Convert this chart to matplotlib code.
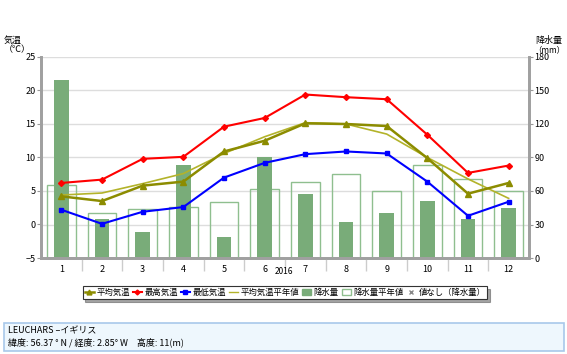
import matplotlib
matplotlib.use("Agg")
import matplotlib.pyplot as plt
from matplotlib.lines import Line2D
from matplotlib.patches import Rectangle, Patch
import numpy as np

plt.rcParams['font.family'] = ['Noto Sans CJK JP', 'DejaVu Sans']

months = [1, 2, 3, 4, 5, 6, 7, 8, 9, 10, 11, 12]
month_labels = ['1', '2', '3', '4', '5', '6', '7', '8', '9', '10', '11', '12']
t_max = [6.2, 6.7, 9.8, 10.1, 14.6, 15.9, 19.4, 19.0, 18.7, 13.4, 7.7, 8.8]
t_avg = [4.2, 3.5, 5.8, 6.4, 10.9, 12.5, 15.1, 15.0, 14.7, 9.9, 4.6, 6.2]
t_min = [2.2, 0.1, 1.9, 2.6, 7.0, 9.2, 10.5, 10.9, 10.6, 6.4, 1.3, 3.4]
t_avg_normal = [4.4, 4.7, 6.1, 7.6, 10.6, 13.1, 15.2, 15.0, 13.5, 10.0, 6.8, 3.9]
precip = [159, 35, 23, 83, 19, 90, 57, 32, 40, 51, 35, 45]
precip_normal = [65, 40, 44, 46, 50, 62, 68, 75, 60, 83, 71, 60]
year_label = '2016'

W, H = 567, 354
fig = plt.figure(figsize=(W / 100, H / 100), dpi=100)

x0, x1, y0, y1 = 41, 529, 57, 258
ax = fig.add_axes([x0 / W, 1 - y1 / H, (x1 - x0) / W, (y1 - y0) / H])
ax2 = ax.twinx()

ax2.set_zorder(1)
ax.set_zorder(2)
ax.patch.set_visible(False)

ax2.bar(months, precip_normal, width=0.7, facecolor='none', edgecolor='#8fbf8f', linewidth=1.0, zorder=1)
ax2.bar(months, precip, width=0.36, color='#79ac79', zorder=2)
ax2.set_ylim(0, 180)
ax2.set_yticks(np.arange(0, 181, 30))

ax.plot(months, t_avg_normal, color='#b3b32a', linewidth=1.2, zorder=3)
ax.plot(months, t_max, color='#ff0000', linewidth=1.5, marker='D', markersize=3, zorder=4)
ax.plot(months, t_avg, color='#8c8c00', linewidth=1.8, marker='^', markersize=4, zorder=4)
ax.plot(months, t_min, color='#0000ff', linewidth=1.5, marker='s', markersize=3.5, zorder=4)

ax.set_xlim(0.5, 12.5)
ax.set_ylim(-5, 25)
ax.set_yticks(np.arange(-5, 26, 5))
for v in np.arange(0, 26, 5):
    ax2.axhline(30 + 6 * v, color='#dddddd', linewidth=1.0, zorder=0)

ax.set_xticks(months)
ax.set_xticklabels(month_labels)
ax.set_xticks(np.arange(1.5, 12, 1), minor=True)
ax.tick_params(axis='x', which='major', length=0, labelsize=6.5, pad=5)
ax.tick_params(axis='x', which='minor', length=9, color='#cccccc', width=1)
ax.tick_params(axis='y', labelsize=6.5, length=3, color='#999999', pad=1)
ax2.tick_params(axis='y', labelsize=6.5, length=3, color='#999999', pad=1)

for a in (ax, ax2):
    a.spines['top'].set_visible(False)
    for s in ('left', 'right', 'bottom'):
        a.spines[s].set_color('#a0a0a0')
        a.spines[s].set_linewidth(2.0)

fig.text(284 / W, 1 - 272 / H, year_label, fontsize=6, ha='center', va='center')

fig.text(W / 2, 1 - 17 / H, 'LEUCHARS イギリス', fontsize=9.5, ha='center', va='center', color='#222222')
fig.text(4 / W, 1 - 40 / H, '気温', fontsize=6.5, ha='left', va='center')
fig.text(4 / W, 1 - 50 / H, '（℃）', fontsize=6.5, ha='left', va='center')
fig.text(549 / W, 1 - 40 / H, '降水量', fontsize=6.5, ha='center', va='center')
fig.text(549 / W, 1 - 50 / H, '（mm）', fontsize=6, ha='center', va='center')

handles = [
    Line2D([], [], color='#8c8c00', linewidth=1.8, marker='^', markersize=3.5),
    Line2D([], [], color='#ff0000', linewidth=1.5, marker='D', markersize=2.5),
    Line2D([], [], color='#0000ff', linewidth=1.5, marker='s', markersize=2.5),
    Line2D([], [], color='#b3b32a', linewidth=1.0),
    Patch(facecolor='#79ac79', edgecolor='#79ac79'),
    Patch(facecolor='white', edgecolor='#8fbf8f'),
    Line2D([], [], color='#888888', linestyle='none', marker='x', markersize=2.5),
]
labels = ['平均気温', '最高気温', '最低気温', '平均気温平年値', '降水量', '降水量平年値', '値なし（降水量）']
leg = fig.legend(handles, labels, loc='center', bbox_to_anchor=(285 / W, 1 - 292.5 / H), ncol=7,
                 fontsize=6, frameon=True, fancybox=False, shadow=True, handlelength=1.1,
                 handletextpad=0.3, columnspacing=0.35, borderpad=0.25, handleheight=0.7)
leg.get_frame().set_edgecolor('#333333')
leg.get_frame().set_linewidth(0.8)

box = Rectangle((4 / W, 1 - 351 / H), 560 / W, 28 / H, transform=fig.transFigure,
                facecolor='#eef7fd', edgecolor='#a8c8ea', linewidth=1.2)
fig.patches.append(box)
fig.text(8 / W, 1 - 330.5 / H, 'LEUCHARS –イギリス', fontsize=6.5, ha='left', va='center')
fig.text(8 / W, 1 - 342 / H, '緯度: 56.37 ° N / 経度: 2.85° W　高度: 11(m)', fontsize=6.5, ha='left', va='center')

fig.savefig('out.png', dpi=100)
